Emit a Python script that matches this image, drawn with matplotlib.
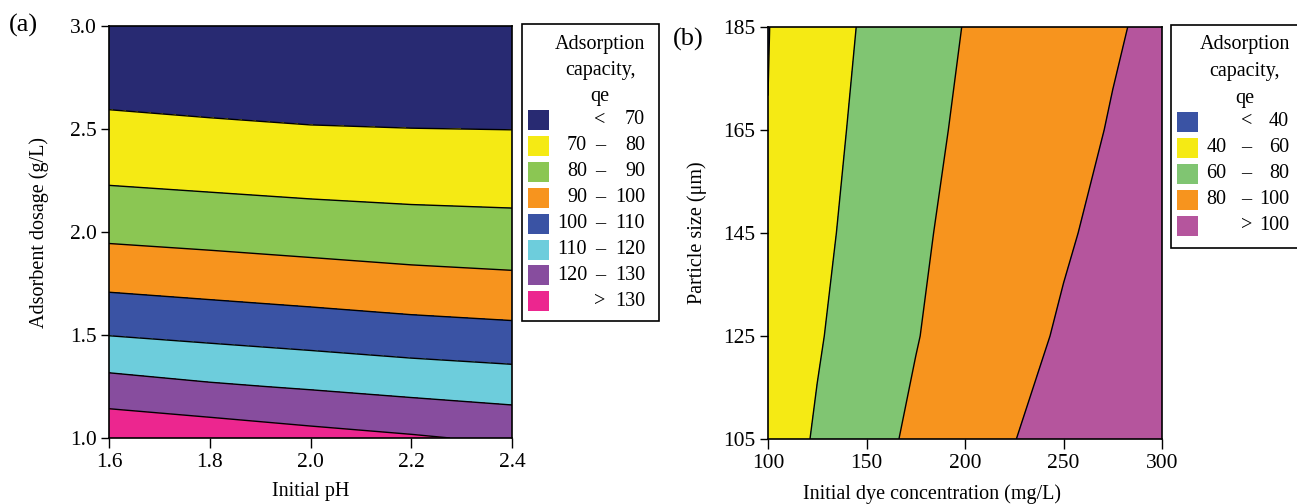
import numpy as np
import matplotlib.pyplot as plt
from matplotlib.patches import Rectangle
from matplotlib.ticker import FormatStrFormatter

plt.rcParams['font.family'] = ['Liberation Serif', 'DejaVu Serif']
plt.rcParams['font.size'] = 14.5

# (a) adsorption capacity vs initial pH and adsorbent dosage
ph = [1.6, 1.8, 2.0, 2.2, 2.4]
dosage = [1.0, 1.25, 1.5, 1.75, 2.0, 2.25, 2.5, 2.75, 3.0]
qe_a = [
    [138.3, 136.0, 133.3, 131.0, 128.4],
    [123.7, 121.1, 119.1, 117.0, 115.3],
    [109.8, 107.9, 106.1, 104.3, 103.0],
    [98.0, 96.4, 94.9, 93.4, 92.3],
    [87.7, 86.5, 85.2, 84.0, 83.3],
    [79.2, 78.1, 77.1, 76.5, 76.2],
    [72.4, 71.4, 70.5, 70.1, 69.9],
    [66.0, 65.0, 64.2, 63.8, 63.6],
    [59.7, 58.8, 58.0, 57.6, 57.4],
]
levels_a = [0, 70, 80, 90, 100, 110, 120, 130, 200]
colors_a = ['#282a72', '#f5ea14', '#8bc653', '#f7941e',
            '#3a53a4', '#6dcddc', '#874d9e', '#ec268f']

# (b) adsorption capacity vs initial dye concentration and particle size
conc = [100, 125, 150, 175, 200, 225, 250, 275, 300]
size = [105, 125, 145, 165, 185]
qe_b = [
    [49.6, 61.8, 74.4, 82.9, 91.3, 99.7, 106.7, 112.3, 117.0],
    [47.0, 58.5, 69.0, 79.3, 87.1, 94.7, 102.0, 108.1, 113.2],
    [44.6, 56.0, 66.3, 77.5, 84.4, 91.3, 98.1, 104.5, 109.9],
    [40.2, 54.0, 64.1, 75.7, 82.2, 88.5, 94.8, 101.1, 106.5],
    [39.6, 51.3, 62.3, 71.6, 80.6, 86.5, 92.3, 98.3, 103.9],
]
levels_b = [0, 40, 60, 80, 100, 200]
colors_b = ['#3a53a4', '#f5ea14', '#80c572', '#f7941e', '#b5559d']

W, H = 1297, 504


def fx(px):
    return px / W


def fy(py):
    return 1 - py / H


fig = plt.figure(figsize=(W / 100, H / 100), dpi=100)
ax1 = fig.add_axes([fx(109), fy(438), (512 - 109) / W, (438 - 26) / H])
ax2 = fig.add_axes([fx(768), fy(439), (1162 - 768) / W, (439 - 27) / H])

ax1.contourf(ph, dosage, qe_a, levels=levels_a, colors=colors_a)
ax1.contour(ph, dosage, qe_a, levels=levels_a[1:-1], colors='k', linewidths=1)
ax1.set_xlim(1.6, 2.4)
ax1.set_ylim(1.0, 3.0)
ax1.set_xticks([1.6, 1.8, 2.0, 2.2, 2.4])
ax1.set_yticks([1.0, 1.5, 2.0, 2.5, 3.0])
ax1.xaxis.set_major_formatter(FormatStrFormatter('%.1f'))
ax1.yaxis.set_major_formatter(FormatStrFormatter('%.1f'))
ax1.set_xlabel('Initial pH')
ax1.set_ylabel('Adsorbent dosage (g/L)')
ax1.xaxis.set_label_coords(0.5, -0.108)
ax1.yaxis.set_label_coords(-0.148, 0.5)

ax2.contourf(conc, size, qe_b, levels=levels_b, colors=colors_b)
ax2.contour(conc, size, qe_b, levels=levels_b[1:-1], colors='k', linewidths=1)
ax2.set_xlim(100, 300)
ax2.set_ylim(105, 185)
ax2.set_xticks([100, 150, 200, 250, 300])
ax2.set_yticks([105, 125, 145, 165, 185])
ax2.set_xlabel('Initial dye concentration (mg/L)')
ax2.set_ylabel('Particle size (μm)')
ax2.xaxis.set_label_coords(0.415, -0.11)
ax2.yaxis.set_label_coords(-0.155, 0.5)

for ax in (ax1, ax2):
    ax.tick_params(direction='out', width=1, labelsize=15.5)
    ax.tick_params(axis='x', length=7, pad=3.5)
    ax.tick_params(axis='y', length=6, pad=3)
    ax.tick_params(top=False, right=False)
    for sp in ax.spines.values():
        sp.set_linewidth(1.2)

fig.text(fx(23), fy(25), '(a)', ha='center', va='center', fontsize=19)
fig.text(fx(688), fy(39), '(b)', ha='center', va='center', fontsize=19)


def draw_key(box, title_x, title_ys, row_ys, sq_x, colors, labels, cols):
    x0, y0, x1, y1 = box
    fig.patches.append(Rectangle((fx(x0), fy(y1)), fx(x1) - fx(x0), fy(y0) - fy(y1),
                                 transform=fig.transFigure, facecolor='white',
                                 edgecolor='black', linewidth=1.2))
    for line, ty in zip(['Adsorption', 'capacity,', 'qe'], title_ys):
        fig.text(fx(title_x), fy(ty), line, ha='center', va='center')
    lo_x, lo_ha, dash_x, hi_x = cols
    for ry, c, (lo, hi) in zip(row_ys, colors, labels):
        fig.patches.append(Rectangle((fx(sq_x), fy(ry + 10)), 21 / W, 20 / H,
                                     transform=fig.transFigure, facecolor=c,
                                     edgecolor='none'))
        if lo is None:
            mid, left, right = '<', '', str(hi)
        elif hi is None:
            mid, left, right = '>', '', str(lo)
        else:
            mid, left, right = '–', str(lo), str(hi)
        fig.text(fx(lo_x), fy(ry), left, ha=lo_ha, va='center')
        fig.text(fx(dash_x), fy(ry), mid, ha='center', va='center')
        fig.text(fx(hi_x), fy(ry), right, ha='right', va='center')


labels_a = [(None, 70), (70, 80), (80, 90), (90, 100), (100, 110),
            (110, 120), (120, 130), (130, None)]
draw_key((521.5, 24, 659, 320.5), 600, [44, 70, 96],
         [120 + 25.9 * i for i in range(8)], 528, colors_a, labels_a,
         (587, 'right', 600, 645))

# this box runs past the right edge of the figure
labels_b = [(None, 40), (40, 60), (60, 80), (80, 100), (100, None)]
draw_key((1170.5, 25, 1305, 247.5), 1245, [45, 71.5, 98],
         [121.5 + 26.1 * i for i in range(5)], 1177, colors_b, labels_b,
         (1206.5, 'left', 1246.5, 1289))

fig.savefig('out.png', dpi=100)
